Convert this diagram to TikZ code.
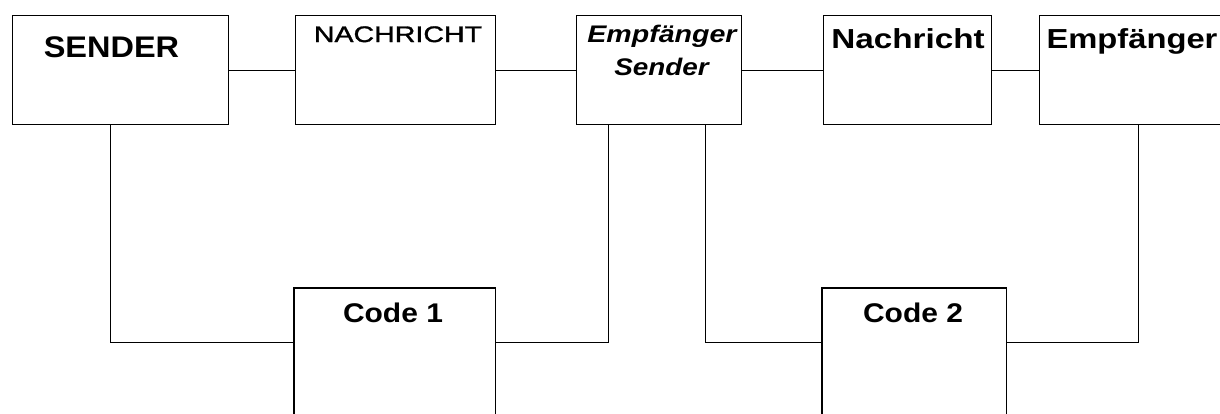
\documentclass[tikz,border=0pt]{standalone}
\usepackage{fontspec}
\setmainfont{Liberation Sans}
\newfontfamily\medfont[FakeBold=1.3]{Liberation Sans}
\usepackage{graphicx}
\tikzset{
  boxnode/.style={draw=black, line width=1.3pt, rectangle, inner sep=0pt, anchor=north west},
  opennode/.style={rectangle, inner sep=0pt, anchor=north west},
  wire/.style={draw=black, line width=1.3pt},
  lbl/.style={inner sep=0pt, anchor=base}
}
\begin{document}
\begin{tikzpicture}[x=1pt,y=-1pt]
\useasboundingbox (0,0) rectangle (1220,413);
\clip (0,0) rectangle (1220,413);
% boxes
\node[boxnode, minimum width=216pt, minimum height=109pt] (sender) at (12,15) {};
\node[boxnode, minimum width=200pt, minimum height=109pt] (nach1) at (295,15) {};
\node[boxnode, minimum width=165pt, minimum height=109pt] (empsend) at (576,15) {};
\node[boxnode, minimum width=168pt, minimum height=109pt] (nach2) at (823,15) {};
\node[boxnode, minimum width=185pt, minimum height=109pt] (empf) at (1039,15) {};
\node[opennode, minimum width=201pt, minimum height=108pt] (code1) at (294,288) {};
\node[opennode, minimum width=184pt, minimum height=108pt] (code2) at (822,288) {};
\draw[wire] ([yshift=-30pt]code1.south west) -- (code1.north west) -- (code1.north east) -- ([yshift=-30pt]code1.south east);
\draw[wire] ([yshift=-30pt]code2.south west) -- (code2.north west) -- (code2.north east) -- ([yshift=-30pt]code2.south east);
% labels
\node[lbl] (tsender) at (111.5,57) {\fontsize{29.8}{31}\selectfont\bfseries\scalebox{1.09}[1]{SENDER}};
\node[lbl] (tnach1) at (398,42) {\fontsize{22.5}{24}\selectfont\medfont\scalebox{1.27}[1]{NACHRICHT}};
\node[lbl] (temp1) at (662,42) {\fontsize{24}{25}\selectfont\bfseries\itshape\scalebox{1.19}[1]{Empfänger}};
\node[lbl] (tsend2) at (661.5,75) {\fontsize{24}{25}\selectfont\bfseries\itshape\scalebox{1.16}[1]{Sender}};
\node[lbl] (tnach2) at (908,48) {\fontsize{27.5}{29}\selectfont\bfseries\scalebox{1.21}[1]{Nachricht}};
\node[lbl] (temp2) at (1132,48) {\fontsize{27.5}{29}\selectfont\bfseries\scalebox{1.19}[1]{Empfänger}};
\node[lbl] (tcode1) at (393,322) {\fontsize{27}{28}\selectfont\bfseries\scalebox{1.11}[1]{Code 1}};
\node[lbl] (tcode2) at (913,322) {\fontsize{27}{28}\selectfont\bfseries\scalebox{1.11}[1]{Code 2}};
% connectors
\draw[wire] (sender.east) -- (nach1.west);
\draw[wire] (nach1.east) -- (empsend.west);
\draw[wire] (empsend.east) -- (nach2.west);
\draw[wire] (nach2.east) -- (empf.west);
\draw[wire] ([xshift=-10pt]sender.south) |- (code1.west);
\draw[wire] (code1.east) -| ([xshift=-50.5pt]empsend.south);
\draw[wire] ([xshift=46.5pt]empsend.south) |- (code2.west);
\draw[wire] (code2.east) -| ([xshift=6.5pt]empf.south);
\end{tikzpicture}
\end{document}
